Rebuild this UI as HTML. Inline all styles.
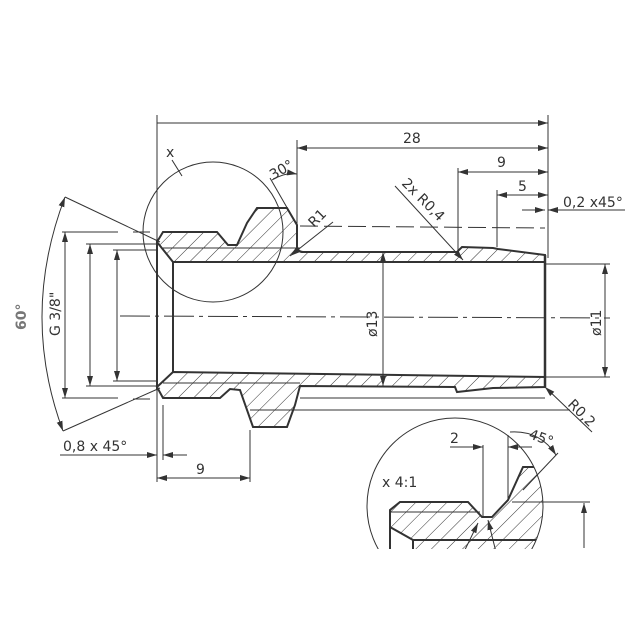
<!DOCTYPE html>
<html><head><meta charset="utf-8"><style>
html,body{margin:0;padding:0;background:#fff}
svg{display:block}
text{font-family:"DejaVu Sans","Liberation Sans",sans-serif;fill:#333;font-size:14px}
</style></head><body>
<svg width="640" height="640" viewBox="0 0 640 640" xmlns="http://www.w3.org/2000/svg">
<defs>
<pattern id="h" patternUnits="userSpaceOnUse" width="11" height="11" patternTransform="rotate(45)">
<line x1="0" y1="0" x2="0" y2="11" stroke="#333" stroke-width="1"/>
</pattern>
<marker id="a" markerWidth="10" markerHeight="6" refX="10" refY="3" orient="auto-start-reverse" markerUnits="userSpaceOnUse">
<path d="M0,0 L10,3 L0,6 z" fill="#333"/></marker>
<clipPath id="cut"><rect x="0" y="0" width="640" height="549"/></clipPath>
<clipPath id="dc"><circle cx="455" cy="506" r="88"/></clipPath>
</defs>
<g stroke="#333" fill="none" stroke-width="1">
<!-- top half section -->
<path d="M157,242 L163,232 L217,232 L228,245 L237,245 L247,223 L257,208 L287,208 L297,225 L297,247 Q298,252 303,252 L457,252 L462,247 L493,248 L498,249 L545,255 L545,262 L173,262 Z" fill="url(#h)" stroke-width="2"/>
<!-- bottom half section -->
<path d="M157,387 L163,398 L220,398 L230,389 L240,390 L253,427 L287,427 L295,405 L300,386 L455,387 L457,392 L493,388 L545,387 L545,377 L173,372 Z" fill="url(#h)" stroke-width="2"/>
<line x1="173" y1="262" x2="173" y2="372" stroke-width="2"/>
<line x1="157" y1="240" x2="157" y2="390" stroke-width="2"/>
<line x1="545" y1="255" x2="545" y2="387" stroke-width="2.5"/>
<line x1="157" y1="242" x2="173" y2="262" stroke-width="1.5"/>
<line x1="157" y1="387" x2="173" y2="372" stroke-width="1.5"/>
<!-- centerline -->
<line x1="120" y1="316" x2="610" y2="318" stroke-dasharray="30,5,4,5"/>
<!-- hidden/thread lines -->
<line x1="300" y1="226" x2="545" y2="228" stroke-dasharray="18,6"/>
<line x1="163" y1="248" x2="300" y2="248"/>
<line x1="163" y1="383" x2="300" y2="383"/>
<line x1="250" y1="410" x2="570" y2="410"/>
<line x1="300" y1="398" x2="545" y2="398"/>
<!-- detail circle X -->
<circle cx="213" cy="232" r="70"/>
<line x1="172" y1="160" x2="182" y2="176"/>
<!-- dims top -->
<line x1="157" y1="115" x2="157" y2="240"/>
<line x1="548" y1="115" x2="548" y2="258"/>
<line x1="157" y1="123" x2="548" y2="123" marker-end="url(#a)"/>
<line x1="297" y1="140" x2="297" y2="225"/>
<line x1="297" y1="148" x2="548" y2="148" marker-start="url(#a)" marker-end="url(#a)"/>
<line x1="458" y1="168" x2="458" y2="250"/>
<line x1="458" y1="172" x2="548" y2="172" marker-start="url(#a)" marker-end="url(#a)"/>
<line x1="497" y1="190" x2="497" y2="247"/>
<line x1="497" y1="195" x2="548" y2="195" marker-start="url(#a)" marker-end="url(#a)"/>
<line x1="522" y1="210" x2="545" y2="210" marker-end="url(#a)"/>
<line x1="548" y1="210" x2="625" y2="210" marker-start="url(#a)"/>
<!-- 30 deg -->
<line x1="270" y1="178" x2="297" y2="225"/>
<path d="M272,180 Q285,172 297,174" marker-end="url(#a)"/>
<!-- R1 -->
<line x1="290" y1="256" x2="333" y2="222" marker-start="url(#a)"/>
<!-- 2x R0,4 -->
<line x1="395" y1="186" x2="463" y2="260" marker-end="url(#a)"/>
<!-- Ø13 -->
<line x1="383" y1="252" x2="383" y2="386" marker-start="url(#a)" marker-end="url(#a)"/>
<!-- Ø11 -->
<line x1="545" y1="264" x2="610" y2="264"/>
<line x1="545" y1="377" x2="610" y2="377"/>
<line x1="605" y1="264" x2="605" y2="377" marker-start="url(#a)" marker-end="url(#a)"/>
<!-- R0,2 -->
<line x1="545" y1="387" x2="592" y2="432" marker-start="url(#a)"/>
<!-- left dims -->
<line x1="62" y1="232" x2="118" y2="232"/>
<line x1="62" y1="398" x2="118" y2="398"/>
<line x1="65" y1="232" x2="65" y2="398" marker-start="url(#a)" marker-end="url(#a)"/>
<line x1="86" y1="244" x2="157" y2="244"/>
<line x1="86" y1="386" x2="157" y2="386"/>
<line x1="90" y1="244" x2="90" y2="386" marker-start="url(#a)" marker-end="url(#a)"/>
<line x1="113" y1="250" x2="157" y2="250"/>
<line x1="113" y1="381" x2="157" y2="381"/>
<line x1="117" y1="250" x2="117" y2="381" marker-start="url(#a)" marker-end="url(#a)"/>
<line x1="133" y1="232" x2="150" y2="232"/>
<line x1="133" y1="399" x2="150" y2="399"/>
<!-- 60 deg -->
<line x1="65" y1="197" x2="160" y2="242"/>
<line x1="63" y1="431" x2="160" y2="388"/>
<path d="M65,197 Q20,315 63,431" marker-start="url(#a)" marker-end="url(#a)"/>
<!-- 0,8 x 45 -->
<line x1="163" y1="405" x2="163" y2="460"/>
<line x1="60" y1="455" x2="157" y2="455" marker-end="url(#a)"/>
<line x1="163" y1="455" x2="187" y2="455" marker-start="url(#a)"/>
<!-- 9 bottom -->
<line x1="157" y1="390" x2="157" y2="482"/>
<line x1="250" y1="430" x2="250" y2="482"/>
<line x1="157" y1="478" x2="250" y2="478" marker-start="url(#a)" marker-end="url(#a)"/>
</g>
<!-- detail view -->
<g clip-path="url(#cut)" stroke="#333" fill="none" stroke-width="1">
<circle cx="455" cy="506" r="88"/>
<g clip-path="url(#dc)">
<path d="M390,510 L400,502 L468,502 L482,517 L492,517 L508,500 L523,467 L545,467 L545,560 L413,560 L413,540 L390,527 Z" fill="url(#h)" stroke-width="2"/>
<line x1="413" y1="540" x2="545" y2="540" stroke-width="2"/>
<line x1="390" y1="512" x2="480" y2="512"/>
</g>
<line x1="390" y1="510" x2="390" y2="560" stroke-width="2"/>
<line x1="483" y1="445" x2="483" y2="517"/>
<line x1="508" y1="435" x2="508" y2="500"/>
<line x1="450" y1="447" x2="483" y2="447" marker-end="url(#a)"/>
<line x1="508" y1="447" x2="532" y2="447" marker-start="url(#a)"/>
<path d="M510,432 Q540,430 556,455" marker-end="url(#a)"/>
<line x1="523" y1="490" x2="558" y2="453"/>
<line x1="512" y1="502" x2="590" y2="502"/>
<line x1="584" y1="548" x2="584" y2="503" marker-end="url(#a)"/>
<line x1="478" y1="523" x2="460" y2="560" marker-start="url(#a)"/>
<line x1="488" y1="520" x2="498" y2="560" marker-start="url(#a)"/>
</g>
<!-- labels -->
<text x="403" y="143">28</text>
<text x="497" y="167">9</text>
<text x="518" y="191">5</text>
<text x="563" y="207">0,2 x45°</text>
<text x="166" y="157" font-size="13">x</text>
<text transform="translate(273,180) rotate(-30)" font-size="13">30°</text>
<text transform="translate(314,228) rotate(-45)" font-size="13">R1</text>
<text transform="translate(401,184) rotate(45)" font-size="13">2x R0,4</text>
<text transform="translate(377,337) rotate(-90)" font-size="13">ø13</text>
<text transform="translate(601,336) rotate(-90)" font-size="13">ø11</text>
<text transform="translate(567,405) rotate(45)" font-size="13">R0,2</text>
<text transform="translate(60,336) rotate(-90)" font-size="13">G 3/8"</text>
<text transform="translate(26,330) rotate(-90)" font-size="15" font-weight="bold" style="fill:#777">60°</text>
<text x="63" y="451">0,8 x 45°</text>
<text x="196" y="474">9</text>
<text x="450" y="443">2</text>
<text transform="translate(528,438) rotate(20)" font-size="13">45°</text>
<text x="382" y="487">x 4:1</text>
</svg>
</body></html>
